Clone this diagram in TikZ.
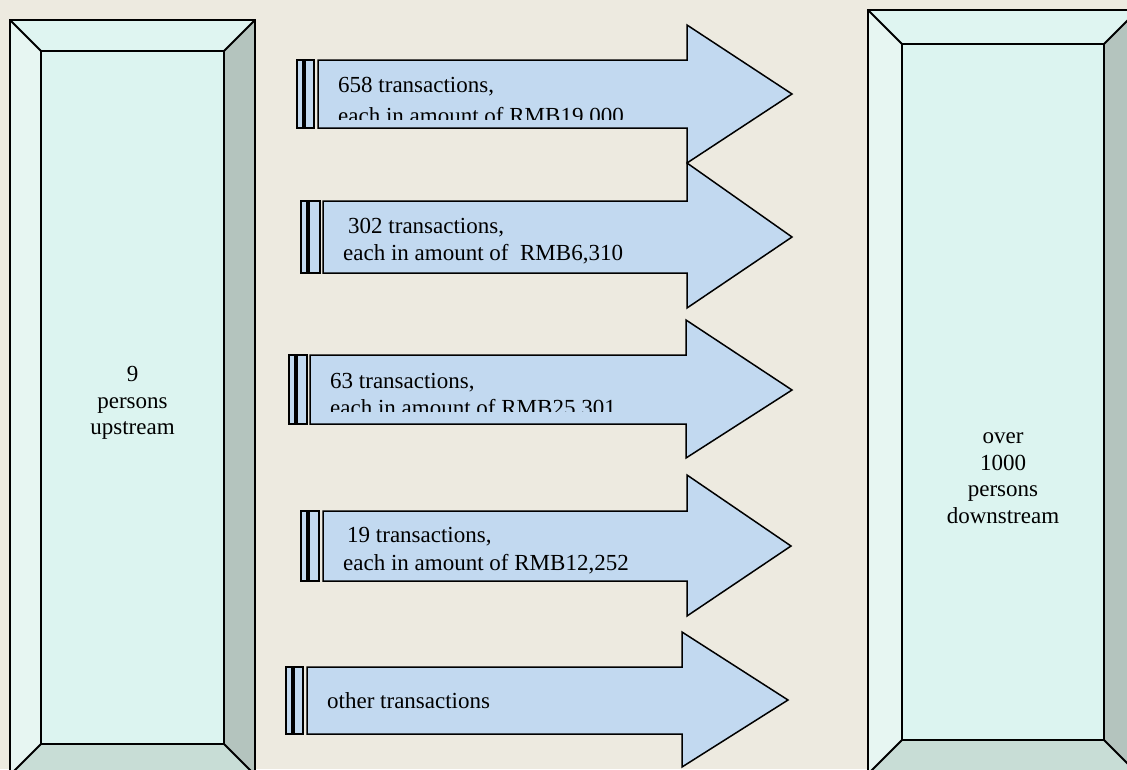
\documentclass[tikz,border=0pt]{standalone}
\usepackage{fontspec}
\setmainfont{Liberation Serif}
\definecolor{bgbeige}{RGB}{237,234,224}
\definecolor{facecyan}{RGB}{220,244,240}
\definecolor{topcyan}{RGB}{223,245,241}
\definecolor{leftcyan}{RGB}{231,246,242}
\definecolor{rightgray}{RGB}{180,196,190}
\definecolor{bottomgray}{RGB}{200,221,214}
\definecolor{arrowblue}{RGB}{194,217,240}
\tikzset{
  line text/.style={anchor=base west, inner sep=0pt, font=\fontsize{23}{27}\selectfont},
  box text/.style={align=center, inner sep=0pt, font=\fontsize{23}{26.5}\selectfont},
  blockarrow/.style={fill=arrowblue, draw=black, line width=1.5pt},
  stripe/.style={fill=arrowblue, draw=black, line width=1.1pt},
  bevel/.style={draw=black, line width=2pt},
}
\begin{document}
\begin{tikzpicture}[x=1pt,y=-1pt]
\useasboundingbox (0,0) rectangle (1127,769);
\clip (0,0) rectangle (1127,769);
\fill[bgbeige] (0,0) rectangle (1127,769);

\fill[topcyan] (10,20) -- (255,20) -- (224,51) -- (41,51) -- cycle;
\fill[leftcyan] (10,20) -- (41,51) -- (41,744) -- (10,775) -- cycle;
\fill[rightgray] (255,20) -- (255,775) -- (224,744) -- (224,51) -- cycle;
\fill[bottomgray] (10,775) -- (255,775) -- (224,744) -- (41,744) -- cycle;
\fill[facecyan] (41,51) rectangle (224,744);
\draw[bevel] (10,20) rectangle (255,775);
\draw[bevel] (41,51) rectangle (224,744);
\draw[bevel] (10,20) -- (41,51) (255,20) -- (224,51) (10,775) -- (41,744) (255,775) -- (224,744);
\node[box text] (up) at (132.5,403) {9\\persons\\upstream};

\fill[topcyan] (868,10) -- (1138,10) -- (1104,44) -- (902,44) -- cycle;
\fill[leftcyan] (868,10) -- (902,44) -- (902,740) -- (868,774) -- cycle;
\fill[rightgray] (1138,10) -- (1138,774) -- (1104,740) -- (1104,44) -- cycle;
\fill[bottomgray] (868,774) -- (1138,774) -- (1104,740) -- (902,740) -- cycle;
\fill[facecyan] (902,44) rectangle (1104,740);
\draw[bevel] (868,10) rectangle (1138,774);
\draw[bevel] (902,44) rectangle (1104,740);
\draw[bevel] (868,10) -- (902,44) (1138,10) -- (1104,44) (868,774) -- (902,740) (1138,774) -- (1104,740);
\node[box text] (down) at (1003,478) {over\\1000\\persons\\downstream};

\draw[stripe] (297,60) rectangle (303,128);
\draw[stripe] (305,60) rectangle (314,128);
\draw[blockarrow] (318,60) -- (687,60) -- (687,25) -- (792,94) -- (687,163) -- (687,128) -- (318,128) -- cycle;
\begin{scope}
\clip (318,60) rectangle (687,119);
\node[line text] (t658a) at (338,92) {658 transactions,};
\node[line text] (t658b) at (338,123) {each in amount of RMB19,000};
\end{scope}

\draw[stripe] (301,201) rectangle (307,273);
\draw[stripe] (309,201) rectangle (320,273);
\draw[blockarrow] (323,201) -- (687,201) -- (687,163) -- (792,237) -- (687,308) -- (687,273) -- (323,273) -- cycle;
\node[line text] (t302a) at (348,233) {302 transactions,};
\node[line text] (t302b) at (343,260.5) {each in amount of\ \ RMB6,310};

\draw[stripe] (289,355) rectangle (295,424);
\draw[stripe] (297,355) rectangle (307,424);
\draw[blockarrow] (310,355) -- (686,355) -- (686,320) -- (792,390) -- (686,458) -- (686,424) -- (310,424) -- cycle;
\begin{scope}
\clip (310,355) rectangle (686,411);
\node[line text] (t63a) at (330,388) {63 transactions,};
\node[line text] (t63b) at (330,415.5) {each in amount of RMB25,301};
\end{scope}

\draw[stripe] (301,511) rectangle (307,581);
\draw[stripe] (309,511) rectangle (319,581);
\draw[blockarrow] (323,511) -- (687,511) -- (687,475) -- (791,546) -- (687,616) -- (687,581) -- (323,581) -- cycle;
\node[line text] (t19a) at (347,542.5) {19 transactions,};
\node[line text] (t19b) at (343,570) {each in amount of RMB12,252};

\draw[stripe] (286,667) rectangle (292,734);
\draw[stripe] (294,667) rectangle (303,734);
\draw[blockarrow] (307,667) -- (682,667) -- (682,632) -- (788,700) -- (682,767) -- (682,734) -- (307,734) -- cycle;
\node[line text] (tother) at (327,708) {other transactions};
\end{tikzpicture}
\end{document}
